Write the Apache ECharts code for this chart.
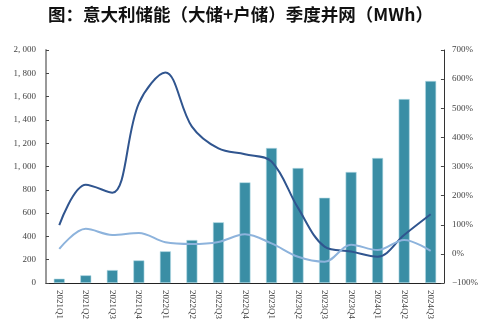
<!DOCTYPE html>
<html><head><meta charset="utf-8">
<script src="https://cdn.jsdelivr.net/npm/echarts@6/dist/echarts.min.js"></script>
<style>html,body{margin:0;padding:0;background:#fff}#c{width:481px;height:333px}</style>
</head><body><div id="c"></div>
<script>
const categories = ['2021Q1','2021Q2','2021Q3','2021Q4','2022Q1','2022Q2','2022Q3','2022Q4','2023Q1','2023Q2','2023Q3','2023Q4','2024Q1','2024Q2','2024Q3'];
const gridMWh = [37, 66, 111, 194, 272, 369, 521, 864, 1159, 987, 732, 953, 1073, 1579, 1734];
const yoyPct = [99, 237, 210, 517, 623, 437, 362, 342, 317, 158, 25, 8, -10, 65, 136];
const qoqPct = [17, 86, 65, 72, 40, 34, 41, 67, 36, -10, -27, 31, 13, 48, 10];
const leftTicks = [0, 2000, 200];
const rightTicks = [-100, 700, 100];

const fontFam = '"Liberation Serif","DejaVu Serif",serif';
const chart = echarts.init(document.getElementById('c'));
chart.setOption({
  animation: false,
  title: {
    text: '图：意大利储能（大储+户储）季度并网（MWh）',
    left: 'center', top: 1,
    textStyle: {fontFamily: '"Noto Sans CJK SC"', fontWeight: 'bold', fontSize: 17.5, color: '#111'}
  },
  grid: {left: 46, right: 36, top: 50, bottom: 50},
  xAxis: {
    type: 'category', data: categories,
    axisLine: {lineStyle: {color: '#222', width: 1}},
    axisTick: {inside: true, length: 3, lineStyle: {color: '#222'}},
    axisLabel: {rotate: -90, fontFamily: fontFam, fontSize: 9, color: '#444', margin: 7}
  },
  yAxis: [{
    type: 'value', min: leftTicks[0], max: leftTicks[1], interval: leftTicks[2],
    axisLine: {show: true, lineStyle: {color: '#999', width: 2}},
    axisTick: {show: true, inside: true, length: 3, lineStyle: {color: '#444'}},
    splitLine: {show: false},
    axisLabel: {fontFamily: fontFam, fontSize: 9, color: '#444', margin: 10,
      formatter: v => v.toLocaleString('en-US').replace(',', ', ')}
  }, {
    type: 'value', min: rightTicks[0], max: rightTicks[1], interval: rightTicks[2],
    axisLine: {show: true, lineStyle: {color: '#333', width: 1}},
    axisTick: {show: true, inside: true, length: 3, lineStyle: {color: '#444'}},
    splitLine: {show: false},
    axisLabel: {fontFamily: fontFam, fontSize: 9, color: '#444', margin: 8, formatter: v => (v < 0 ? '−' + (-v) : v) + '%'}
  }],
  series: [{
    type: 'bar', data: gridMWh, barWidth: 11,
    itemStyle: {color: '#3a8ea5', borderColor: '#b5dbe5', borderWidth: 0.6}
  }, {
    type: 'line', yAxisIndex: 1, data: yoyPct, smooth: 0.35, symbol: 'none',
    lineStyle: {color: '#30558f', width: 2}
  }, {
    type: 'line', yAxisIndex: 1, data: qoqPct, smooth: 0.35, symbol: 'none',
    lineStyle: {color: '#8db3dc', width: 2}
  }]
});
</script></body></html>
